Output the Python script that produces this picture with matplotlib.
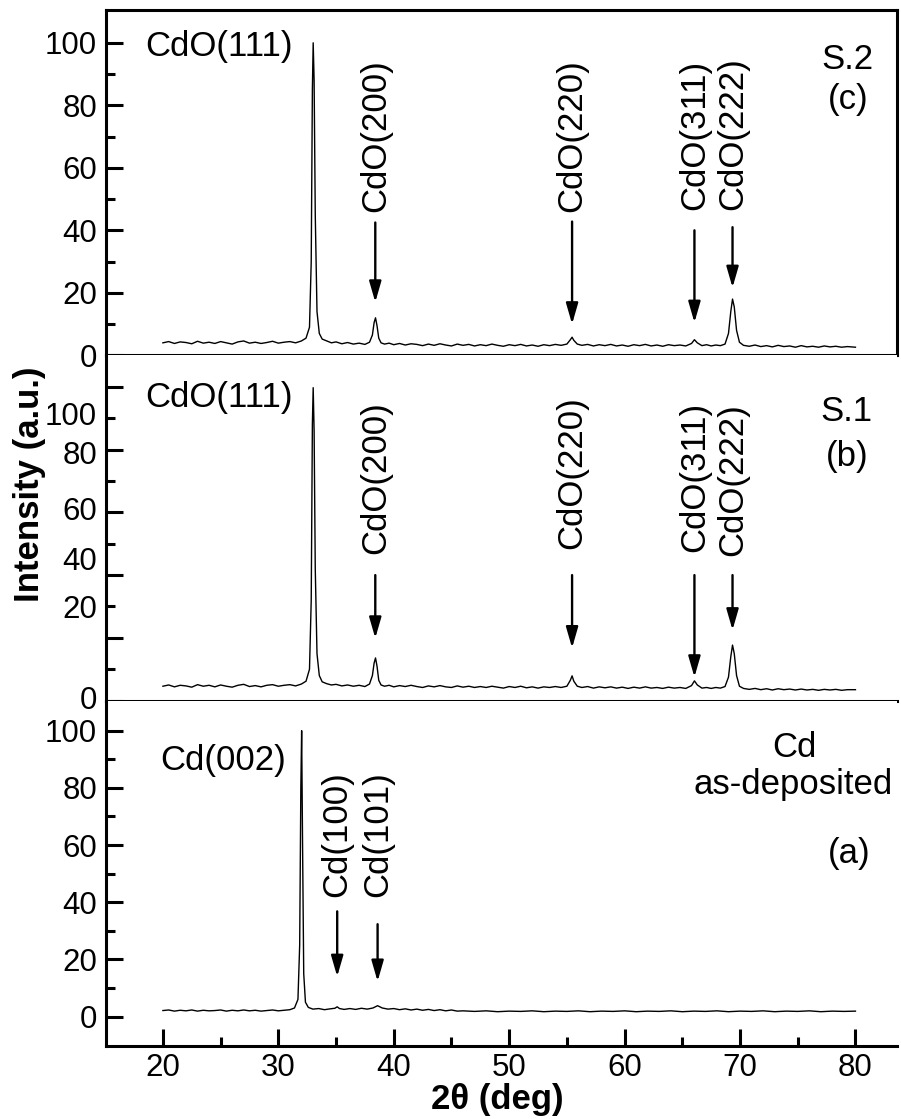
import matplotlib
matplotlib.use('Agg')
import matplotlib.pyplot as plt
from matplotlib.ticker import FixedLocator

plt.rcParams['font.family'] = ['Liberation Sans', 'DejaVu Sans']

# 2theta grid shared by the two annealed CdO scans
cdo_2theta = [
    20.0, 20.5, 21.0, 21.5, 22.0, 22.5, 23.0, 23.5, 24.0, 24.5,
    25.0, 25.5, 26.0, 26.5, 27.0, 27.5, 28.0, 28.5, 29.0, 29.5,
    30.0, 30.5, 31.0, 31.5, 32.0, 32.4, 32.7, 32.85, 32.95, 33.02,
    33.1, 33.2, 33.35, 33.55, 33.8, 34.2, 34.6, 35.0, 35.5, 36.0,
    36.5, 37.0, 37.5, 37.9, 38.15, 38.3, 38.42, 38.55, 38.7, 38.9,
    39.2, 39.6, 40.0, 40.5, 41.0, 41.5, 42.0, 42.5, 43.0, 43.5,
    44.0, 44.5, 45.0, 45.5, 46.0, 46.5, 47.0, 47.5, 48.0, 48.5,
    49.0, 49.5, 50.0, 50.5, 51.0, 51.5, 52.0, 52.5, 53.0, 53.5,
    54.0, 54.5, 55.0, 55.3, 55.45, 55.6, 55.9, 56.3, 56.8, 57.3,
    57.8, 58.3, 58.8, 59.3, 59.8, 60.3, 60.8, 61.3, 61.8, 62.3,
    62.8, 63.3, 63.8, 64.3, 64.8, 65.3, 65.8, 66.05, 66.3, 66.7,
    67.1, 67.5, 67.9, 68.3, 68.7, 69.0, 69.2, 69.35, 69.5, 69.7,
    69.95, 70.3, 70.8, 71.3, 71.8, 72.3, 72.8, 73.3, 73.8, 74.3,
    74.8, 75.3, 75.8, 76.3, 76.8, 77.3, 77.8, 78.3, 78.8, 79.3,
    80.0]

# sample S.2 (c)
s2_counts = [
    4.0, 4.4, 3.8, 4.3, 4.1, 3.7, 4.5, 3.9, 4.2, 3.8,
    4.4, 4.0, 3.6, 4.3, 4.6, 3.9, 4.2, 3.8, 4.1, 4.5,
    3.9, 4.2, 4.4, 4.0, 4.6, 5.5, 9.0, 30.0, 85.0, 100.0,
    88.0, 45.0, 14.0, 7.0, 5.2, 4.6, 4.0, 4.3, 3.7, 4.1,
    3.6, 3.9, 3.5, 4.2, 6.5, 10.5, 12.0, 9.5, 5.5, 4.0,
    3.6, 3.9, 3.4, 3.8, 3.3, 3.7, 3.5, 3.1, 3.6, 3.2,
    3.7, 3.3, 3.0, 3.6, 3.2, 3.5, 3.0, 3.4, 3.1, 3.6,
    3.2, 2.9, 3.4, 3.1, 3.5, 3.0, 3.3, 2.9, 3.4, 3.1,
    3.5, 3.2, 3.6, 5.0, 5.8, 4.8, 3.6, 3.2, 3.5, 3.0,
    3.4, 3.1, 3.5, 3.0, 3.3, 2.9, 3.4, 3.1, 3.5, 3.0,
    3.3, 2.9, 3.4, 3.1, 3.3, 3.0, 3.8, 5.0, 4.0, 3.1,
    3.4, 3.0, 3.3, 3.1, 3.6, 7.0, 14.0, 18.0, 15.5, 8.0,
    4.2, 3.2, 2.9, 3.3, 2.8, 3.1, 2.7, 3.2, 2.8, 3.0,
    2.6, 3.1, 2.7, 2.9, 2.6, 3.0, 2.7, 2.9, 2.6, 2.8,
    2.6]

# sample S.1 (b)
s1_counts = [
    4.6, 5.0, 4.4, 4.9, 4.7, 4.3, 5.1, 4.6, 4.9, 4.4,
    5.0, 4.6, 4.3, 4.9, 5.2, 4.5, 4.8, 4.4, 4.9, 5.1,
    4.6, 4.9, 5.1, 4.7, 5.3, 6.2, 10.0, 32.0, 88.0, 99.7,
    86.0, 42.0, 15.0, 8.0, 6.0, 5.4, 5.0, 5.2, 4.7, 5.0,
    4.6, 4.9, 4.5, 5.3, 8.0, 12.0, 13.6, 11.0, 6.5, 5.0,
    4.6, 4.9, 4.4, 4.8, 4.5, 4.9, 4.5, 4.2, 4.7, 4.4,
    4.8, 4.4, 4.2, 4.7, 4.3, 4.6, 4.2, 4.5, 4.2, 4.6,
    4.3, 4.0, 4.5, 4.2, 4.6, 4.1, 4.4, 4.0, 4.4, 4.2,
    4.5, 4.2, 4.6, 6.5, 7.9, 6.2, 4.6, 4.2, 4.5, 4.0,
    4.4, 4.1, 4.4, 4.0, 4.3, 3.9, 4.3, 4.0, 4.4, 4.0,
    4.2, 3.9, 4.3, 4.0, 4.2, 3.9, 4.8, 6.3, 5.0, 4.0,
    4.2, 3.9, 4.2, 4.0, 4.5, 7.5, 14.0, 17.7, 15.0, 8.0,
    4.6, 3.9, 3.6, 3.9, 3.5, 3.8, 3.4, 3.8, 3.5, 3.7,
    3.4, 3.7, 3.4, 3.6, 3.3, 3.6, 3.4, 3.6, 3.3, 3.5,
    3.5]

# as-deposited Cd film (a)
cd_2theta = [
    20.0, 20.5, 21.0, 21.5, 22.0, 22.5, 23.0, 23.5, 24.0, 24.5,
    25.0, 25.5, 26.0, 26.5, 27.0, 27.5, 28.0, 28.5, 29.0, 29.5,
    30.0, 30.5, 31.0, 31.4, 31.7, 31.85, 31.95, 32.02, 32.1, 32.2,
    32.35, 32.6, 33.0, 33.5, 34.0, 34.5, 34.9, 35.1, 35.3, 35.7,
    36.2, 36.7, 37.2, 37.7, 38.2, 38.6, 39.0, 39.5, 40.0, 40.5,
    41.0, 41.5, 42.0, 42.5, 43.0, 43.5, 44.0, 44.5, 45.0, 45.5,
    46.0, 47.0, 48.0, 49.0, 50.0, 51.0, 52.0, 53.0, 54.0, 55.0,
    56.0, 57.0, 58.0, 59.0, 60.0, 61.0, 62.0, 63.0, 64.0, 65.0,
    66.0, 67.0, 68.0, 69.0, 70.0, 71.0, 72.0, 73.0, 74.0, 75.0,
    76.0, 77.0, 78.0, 79.0, 80.0]

cd_counts = [
    2.1, 2.3, 1.9, 2.2, 2.0, 2.3, 1.9, 2.2, 2.0, 2.1,
    2.3, 1.9, 2.2, 2.0, 2.3, 2.0, 2.2, 1.9, 2.1, 2.3,
    2.0, 2.2, 2.4, 3.0, 6.0, 25.0, 80.0, 100.0, 60.0, 15.0,
    5.0, 3.2, 2.6, 2.8, 2.4, 2.7, 2.9, 3.4, 2.8, 2.5,
    2.8, 2.5, 2.9, 2.6, 3.0, 3.8, 3.0, 2.6, 2.8, 2.4,
    2.7, 2.3, 2.6, 2.2, 2.5, 2.1, 2.4, 2.0, 2.3, 1.9,
    2.0, 1.8, 2.0, 1.7, 1.9, 1.8, 2.0, 1.7, 1.9, 1.8,
    2.0, 1.7, 1.9, 1.8, 2.0, 1.7, 1.9, 1.8, 2.0, 1.7,
    1.9, 1.8, 2.0, 1.7, 1.9, 1.8, 2.0, 1.7, 1.9, 1.8,
    2.0, 1.7, 1.9, 1.8, 1.9]

# reflections marked with arrows
cdo_peaks = ['CdO(200)', 'CdO(220)', 'CdO(311)', 'CdO(222)']
cdo_peak_2theta = [38.4, 55.45, 66.05, 69.35]
cd_peaks = ['Cd(100)', 'Cd(101)']
cd_peak_2theta = [35.1, 38.6]

y_tick_values = [0, 20, 40, 60, 80, 100]
y_tick_labels = ['0', '20', '40', '60', '80', '100']
x_tick_values = [20, 30, 40, 50, 60, 70, 80]

FS_TICK = 22.5
FS_TEXT = 25
LW_AX = 2.2


def style_panel(ax):
    for s in ax.spines.values():
        s.set_linewidth(LW_AX)
    ax.tick_params(axis='both', which='major', direction='in', length=12,
                   width=LW_AX, labelsize=FS_TICK, pad=6.5)
    ax.tick_params(axis='both', which='minor', direction='in', length=6.5,
                   width=LW_AX)
    ax.tick_params(axis='y', right=False, which='both')
    ax.tick_params(axis='x', top=False, which='both')


def mark_peaks(ax, labels, positions, text_base, arrow_from, arrow_to):
    for lab, x, tb, a0, a1 in zip(labels, positions, text_base, arrow_from, arrow_to):
        ax.text(x, tb, lab, rotation=90, ha='center', va='bottom', fontsize=FS_TEXT)
        ax.annotate('', xy=(x, a1), xytext=(x, a0),
                    arrowprops=dict(arrowstyle='-|>,head_length=0.9,head_width=0.26',
                                    mutation_scale=14, lw=1.7, color='k',
                                    shrinkA=0, shrinkB=0))


fig = plt.figure(figsize=(9.01, 11.19), dpi=100)
left, right = 106 / 901, 897 / 901
top, bottom = 1 - 10 / 1119, 1 - 1046 / 1119
h = (top - bottom) / 3

ax_c = fig.add_axes([left, bottom + 2 * h, right - left, h])
ax_b = fig.add_axes([left, bottom + h, right - left, h], sharex=ax_c)
ax_a = fig.add_axes([left, bottom, right - left, h], sharex=ax_c)

for ax in (ax_c, ax_b, ax_a):
    style_panel(ax)
    ax.set_xlim(15.07, 83.6)

# --- (c) S.2 ---
ax_c.plot(cdo_2theta, s2_counts, color='k', lw=1.0)
ax_c.set_ylim(0, 110.5)
ax_c.yaxis.set_major_locator(FixedLocator(y_tick_values))
ax_c.set_yticklabels(y_tick_labels)
ax_c.yaxis.set_minor_locator(FixedLocator([10, 30, 50, 70, 90]))
ax_c.tick_params(axis='x', which='both', bottom=False, labelbottom=False)
ax_c.text(18.5, 98.7, 'CdO(111)', ha='left', va='center', fontsize=FS_TEXT)
mark_peaks(ax_c, cdo_peaks, cdo_peak_2theta,
           [46.0, 46.0, 46.6, 46.6], [42.5, 42.8, 40.0, 41.0], [17.0, 10.0, 10.5, 21.7])
ax_c.text(79.3, 94.6, 'S.2', ha='center', va='center', fontsize=FS_TEXT)
ax_c.text(79.4, 81.8, '(c)', ha='center', va='center', fontsize=FS_TEXT)

# --- (b) S.1 ---
ax_b.plot(cdo_2theta, s1_counts, color='k', lw=1.0)
ax_b.set_ylim(0, 110)
ax_b.spines['top'].set_visible(False)
ax_b.spines['right'].set_visible(False)
ax_b.yaxis.set_major_locator(FixedLocator(y_tick_values))
ax_b.yaxis.set_minor_locator(FixedLocator([10, 30, 50, 70, 90]))
ax_b.tick_params(axis='y', labelleft=False)
ax_b.tick_params(axis='x', which='both', bottom=False, labelbottom=False)
# this panel's scale labels sit off their ticks
for lab, v in zip(y_tick_labels, [0, 28.8, 44.3, 60.1, 77.8, 90.2]):
    ax_b.annotate(lab, xy=(0, v), xycoords=('axes fraction', 'data'),
                  xytext=(-6.5, 0), textcoords='offset points',
                  ha='right', va='center', fontsize=FS_TICK)
ax_b.text(18.5, 96.5, 'CdO(111)', ha='left', va='center', fontsize=FS_TEXT)
mark_peaks(ax_b, cdo_peaks, cdo_peak_2theta,
           [46.8, 48.4, 47.5, 46.2], [40.0, 40.0, 40.0, 40.0], [19.9, 16.8, 7.5, 22.5])
ax_b.text(79.2, 92.0, 'S.1', ha='center', va='center', fontsize=FS_TEXT)
ax_b.text(79.3, 77.8, '(b)', ha='center', va='center', fontsize=FS_TEXT)

# --- (a) as-deposited ---
ax_a.plot(cd_2theta, cd_counts, color='k', lw=1.0)
ax_a.set_ylim(-10.3, 110.5)
ax_a.spines['top'].set_visible(False)
ax_a.spines['right'].set_visible(False)
ax_a.yaxis.set_major_locator(FixedLocator(y_tick_values))
ax_a.set_yticklabels(y_tick_labels)
ax_a.yaxis.set_minor_locator(FixedLocator([10, 30, 50, 70, 90]))
ax_a.xaxis.set_major_locator(FixedLocator(x_tick_values))
ax_a.xaxis.set_minor_locator(FixedLocator([25, 35, 45, 55, 65, 75]))
ax_a.tick_params(axis='x', which='major', pad=5)
ax_a.text(19.8, 89.5, 'Cd(002)', ha='left', va='center', fontsize=FS_TEXT)
mark_peaks(ax_a, cd_peaks, cd_peak_2theta,
           [41.8, 41.8], [36.8, 32.3], [14.0, 12.3])
ax_a.text(74.7, 94.0, 'Cd', ha='center', va='center', fontsize=FS_TEXT)
ax_a.text(74.6, 81.0, 'as-deposited', ha='center', va='center', fontsize=FS_TEXT)
ax_a.text(79.5, 57.0, '(a)', ha='center', va='center', fontsize=FS_TEXT)

fig.text(30 / 901, 1 - 484 / 1119, 'Intensity (a.u.)', rotation=90,
         ha='center', va='center', fontsize=FS_TEXT, fontweight='bold')
fig.text(497 / 901, 1 - 1100 / 1119, '2θ (deg)', ha='center', va='center',
         fontsize=FS_TEXT, fontweight='bold')

fig.savefig('out.png', dpi=100)
